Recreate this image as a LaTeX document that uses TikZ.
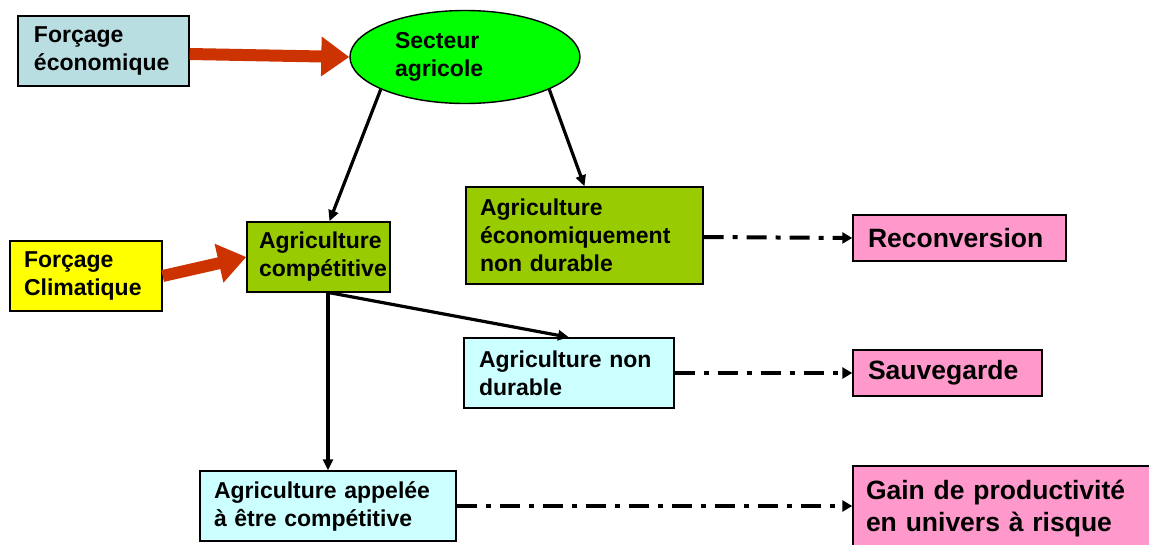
\documentclass[tikz,border=0pt]{standalone}
\usepackage{fontspec}
\setmainfont{Liberation Sans}
\usetikzlibrary{arrows.meta,shapes.geometric,calc}
\definecolor{cfe}{RGB}{185,222,225}
\definecolor{csa}{RGB}{0,255,0}
\definecolor{colive}{RGB}{153,204,0}
\definecolor{cyel}{RGB}{255,255,0}
\definecolor{cpink}{RGB}{255,153,204}
\definecolor{ccyan}{RGB}{204,255,255}
\definecolor{cred}{RGB}{204,51,0}
\newcommand\ip[1]{\hspace*{#1}}
\tikzset{
  box/.style={draw=black, line width=1.4pt, rectangle, align=left, inner xsep=0pt, inner ysep=0pt,
    font=\bfseries\fontsize{23}{28}\selectfont},
  bigbox/.style={box, font=\bfseries\fontsize{26.5}{32}\selectfont},
  redarrow/.style={draw=cred, line width=12pt, -{Triangle[length=28pt,width=38pt]}},
  blackarrow/.style={draw=black, line width=3.2pt, -{Triangle[length=11pt,width=10pt]}},
  dasharrow/.style={draw=black, line width=4pt, dash pattern=on 20pt off 9pt on 5pt off 9pt,
    -{Triangle[length=10pt,width=11pt]}},
}
\begin{document}
\begin{tikzpicture}[x=1pt,y=1pt]
\useasboundingbox (0,0) rectangle (1149,-544);
\clip (0,0) rectangle (1149,-544);
\fill[white] (0,0) rectangle (1149,-544);
% nodes
\node[box, fill=cfe, text width=171pt, minimum height=70pt] (fe) at (103.5,-51) {\ip{16pt}Forçage\\\ip{16pt}économique};
\node[draw=black, line width=1.4pt, ellipse, fill=csa, minimum width=230pt, minimum height=93pt, inner sep=0pt,
  text width=140pt, align=left, font=\bfseries\fontsize{23}{28}\selectfont] (sa) at (465,-57) {Secteur\\agricole};
\node[box, fill=cyel, text width=152pt, minimum height=70pt] (fc) at (86,-276) {\ip{14pt}Forçage\\\ip{14pt}Climatique};
\node[box, fill=colive, text width=143pt, minimum height=70pt] (ac) at (318.5,-257) {\ip{12pt}Agriculture\\\ip{12pt}compétitive};
\node[box, fill=colive, text width=237pt, minimum height=97pt] (aeco) at (584.5,-235.5) {\ip{14pt}Agriculture\\\ip{14pt}économiquement\\\ip{14pt}non durable};
\node[bigbox, fill=cpink, text width=213pt, minimum height=46pt] (rec) at (959.5,-238) {\ip{15pt}Reconversion};
\node[box, fill=ccyan, text width=210pt, minimum height=70pt] (and) at (569,-373) {\ip{15pt}Agriculture non\\\ip{15pt}durable};
\node[bigbox, fill=cpink, text width=189pt, minimum height=46pt] (sauv) at (947.5,-373) {\ip{15pt}Sauvegarde};
\node[box, fill=ccyan, text width=256pt, minimum height=70pt] (aap) at (328,-506) {\ip{14pt}Agriculture appelée\\\ip{14pt}à être compétitive};
\node[bigbox, fill=cpink, text width=322pt, minimum height=86pt] (gain) at (1014,-509) {\ip{13pt}Gain de productivité\\\ip{13pt}en univers à risque};
% red arrows
\draw[redarrow] ([yshift=-3pt]fe.east) -- (sa.west);
\draw[redarrow] (fc.east) -- (ac.west);
% black arrows
\draw[blackarrow] (sa.201) -- ([xshift=11pt]ac.north);
\draw[blackarrow] (sa.-21) -- (aeco.north);
\draw[blackarrow] ([xshift=11pt]ac.south) -- (and.north);
\draw[blackarrow] ([xshift=9.5pt]ac.south) -- (aap.north);
% dash-dot arrows
\draw[dasharrow] ([yshift=-1.5pt]aeco.east) -- (rec.west);
\draw[dasharrow] (and.east) -- (sauv.west);
\draw[dasharrow] (aap.east) -- (gain.west |- aap.east);
\end{tikzpicture}
\end{document}
